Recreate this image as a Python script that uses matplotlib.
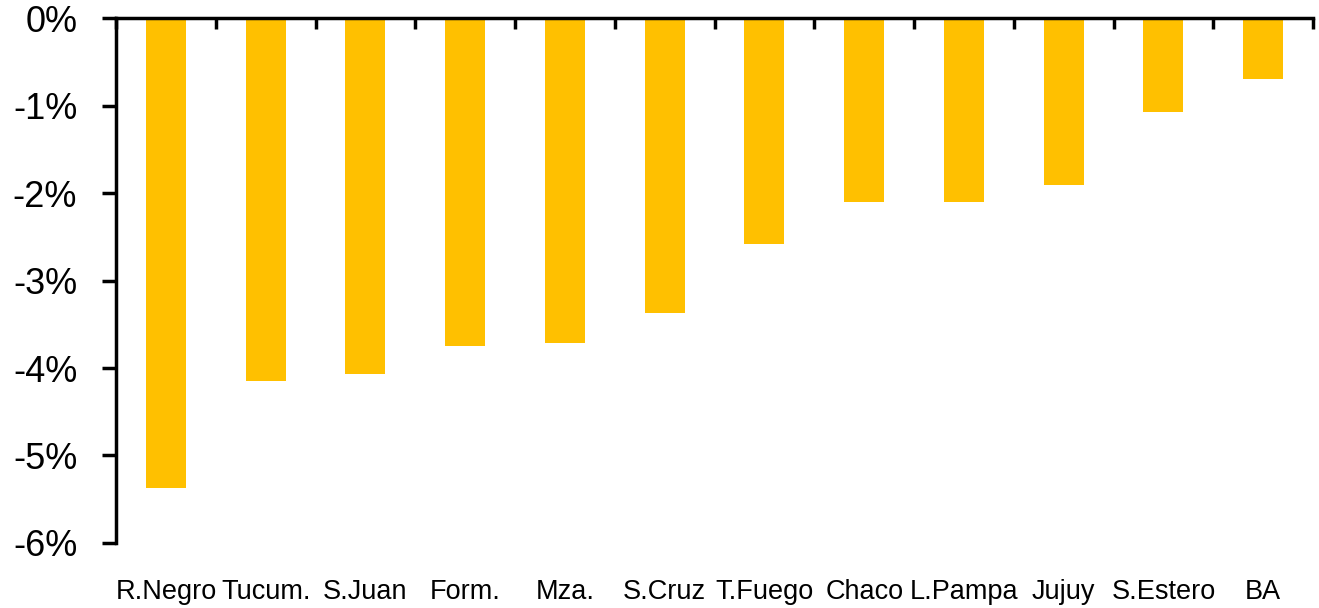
import numpy as np
import matplotlib.pyplot as plt
from matplotlib.ticker import FuncFormatter
import matplotlib.transforms as mtransforms

# provinces and change (%)
provinces = ["R.Negro", "Tucum.", "S.Juan", "Form.", "Mza.", "S.Cruz",
             "T.Fuego", "Chaco", "L.Pampa", "Jujuy", "S.Estero", "BA"]
change = [-5.37, -4.15, -4.07, -3.75, -3.71, -3.37,
          -2.58, -2.10, -2.10, -1.91, -1.07, -0.69]

plt.rcParams['font.family'] = ['Liberation Sans', 'DejaVu Sans']

fig = plt.figure(figsize=(13.19, 6.08), dpi=100)
ax = fig.add_axes([0.088, 0.107, 0.9075, 0.863])

x = np.arange(len(provinces))
ax.bar(x, change, width=0.4, color='#FFC000', zorder=2)

ax.set_xlim(-0.5, len(provinces) - 0.5)
ax.set_ylim(-6, 0)

# category axis sits on the top (0%) line, ticks between categories
ax.spines["bottom"].set_visible(False)
ax.spines["right"].set_visible(False)
ax.spines["top"].set_linewidth(2.5)
ax.spines["left"].set_linewidth(2.5)
ax.xaxis.tick_top()
ax.set_xticks(np.arange(len(provinces) + 1) - 0.5)
ax.tick_params(axis='x', direction='in', length=8, width=2.5, labeltop=False)

ax.set_yticks(np.arange(-6, 1, 1))
ax.yaxis.set_major_formatter(FuncFormatter(lambda v, p: "%d%%" % v))
ax.tick_params(axis='y', direction='out', length=10, width=2.5,
               labelsize=26, pad=18)

# category labels under the plot
trans = mtransforms.blended_transform_factory(ax.transData, ax.transAxes)
for i, name in enumerate(provinces):
    ax.text(i, -0.093, name, transform=trans, ha='center', va='center',
            fontsize=19.5)

plt.savefig("out.png", dpi=100)
